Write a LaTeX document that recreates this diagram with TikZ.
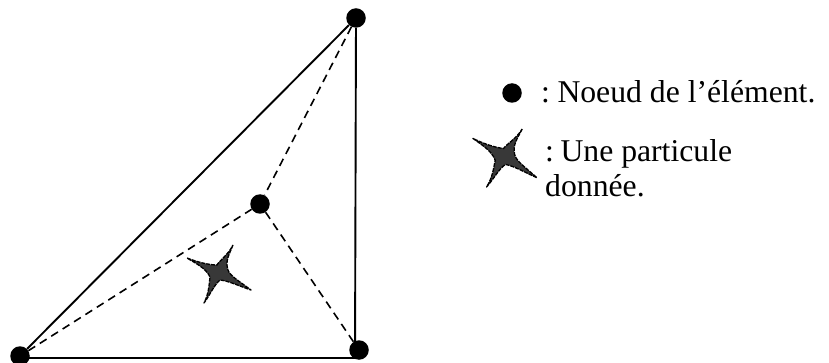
\documentclass[tikz,border=0pt]{standalone}
\usepackage{fontspec}
\setmainfont{Liberation Serif}
\tikzset{
  nodedot/.style={circle,fill=black,draw=none,minimum size=19.5pt,inner sep=0pt},
  solidedge/.style={line width=1.9pt,black},
  dashedge/.style={line width=1.6pt,black,dash pattern=on 8pt off 5.5pt},
  starpart/.style={fill=black!78,draw=black,line width=1.3pt,dash pattern=on 4pt off 1pt,line join=round},
  legend/.style={anchor=base west,inner sep=0pt,font=\fontsize{31.7pt}{34pt}\selectfont},
  particle/.pic={
    \draw[starpart] (14,-28) .. controls (10,-18) and (6,-12) .. (9,-3)
      .. controls (11,3) and (20,8) .. (32,17)
      .. controls (20,13) and (10,8) .. (1,7)
      .. controls (-5,12) and (-9,22) .. (-15,30)
      .. controls (-10,20) and (-10,12) .. (-9,4)
      .. controls (-13,-5) and (-24,-10) .. (-32,-15)
      .. controls (-22,-11) and (-10,-8) .. (-2,-8)
      .. controls (0,-12) and (9,-18) .. (14,-28) -- cycle;
  }
}
\begin{document}
\begin{tikzpicture}[x=1pt,y=-1pt]
\useasboundingbox (0,0) rectangle (829,363);
\coordinate (tl) at (20,358);
\coordinate (tr) at (355,358);
\node[nodedot] (top) at (356,18) {};
\node[nodedot] (bl) at (20,356) {};
\node[nodedot] (br) at (359,350) {};
\node[nodedot] (mid) at (260,204) {};
\draw[solidedge] (top) -- (bl);
\draw[solidedge] (top) -- (tr);
\draw[solidedge] (tl) -- (tr);
\draw[dashedge] (top) -- (mid);
\draw[dashedge] (bl) -- (mid);
\draw[dashedge] (br) -- (mid);
\pic at (219,273) {particle};
\node[nodedot] (dotkey) at (512,93) {};
\pic[rotate=-5,scale=1.05] at (505,157) {particle};
\node[legend] (t1) at (541,103) {:\kern7.5pt Noeud de l’élément.};
\node[legend] (t2) at (545,162) {:\kern6.5pt Une particule};
\node[legend] (t3) at (545,197) {donnée.};
\end{tikzpicture}
\end{document}
